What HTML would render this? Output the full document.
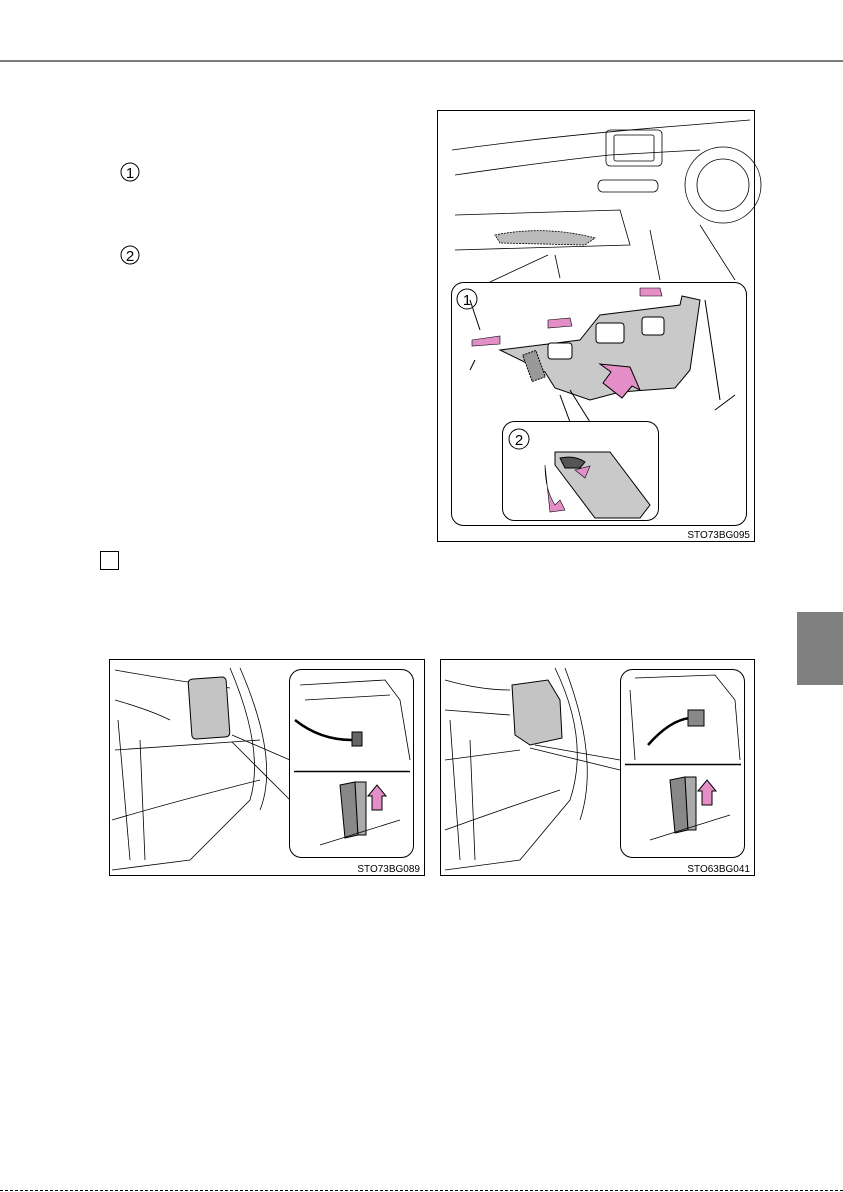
<!DOCTYPE html>
<html><head><meta charset="utf-8"><style>
html,body{margin:0;padding:0;background:#fff;}
body{width:843px;height:1192px;position:relative;overflow:hidden;font-family:"Liberation Sans",sans-serif;}
svg{position:absolute;left:0;top:0;}
</style></head><body>
<svg width="843" height="1192" viewBox="0 0 843 1192" fill="none" stroke="#000" stroke-width="1">
<rect x="0" y="60" width="843" height="2" fill="#7a7a7a" stroke="none"/>
<circle cx="130" cy="172" r="9" stroke-width="1"/>
<text x="130" y="178" font-size="15" text-anchor="middle" fill="#000" stroke="none">1</text>
<circle cx="130" cy="255" r="9"/>
<text x="130" y="261" font-size="15" text-anchor="middle" fill="#000" stroke="none">2</text>
<rect x="100.5" y="551.5" width="18" height="18"/>
<rect x="797" y="612" width="46" height="73" fill="#808080" stroke="none"/>
<line x1="0" y1="1190.5" x2="843" y2="1190.5" stroke="#000" stroke-dasharray="3,2"/>

<!-- top illustration -->
<rect x="437.5" y="110.5" width="317" height="431"/>
<g stroke-width="0.8">
<path d="M452 150 Q560 135 690 125 L750 120"/>
<path d="M455 175 Q560 160 610 155 L700 150"/>
<rect x="606" y="130" width="56" height="36" rx="4"/>
<rect x="614" y="135" width="40" height="26" rx="2"/>
<rect x="598" y="180" width="60" height="12" rx="5"/>
<circle cx="723" cy="185" r="38"/>
<circle cx="723" cy="185" r="26"/>
<path d="M455 215 L620 210 L630 245 L455 250"/>
<path d="M495 235 Q545 225 595 238 L585 245 L500 243 Z" fill="#bbb" stroke-dasharray="2,1"/>
<path d="M555 255 L560 278 M548 255 L490 282"/>
<path d="M650 230 L660 280 M700 225 L735 280"/>
</g>
<rect x="451.5" y="282.5" width="295" height="243" rx="12" fill="#fff"/>
<circle cx="467" cy="299" r="10"/>
<text x="467" y="305" font-size="15" text-anchor="middle" fill="#000" stroke="none">1</text>
<path d="M500 350 L580 340 L600 315 L680 305 L682 296 L700 300 L690 370 L675 388 L620 392 L590 400 L555 388 L545 372 Z" fill="#c9c9c9" stroke-width="1"/>
<rect x="548" y="343" width="24" height="16" rx="3" fill="#fff"/>
<rect x="596" y="323" width="28" height="20" rx="3" fill="#fff"/>
<rect x="642" y="317" width="22" height="18" rx="3" fill="#fff"/>
<rect x="527" y="352" width="14" height="28" fill="#999" stroke-dasharray="2,1" transform="rotate(-20 534 366)"/>
<path d="M472 340 L500 336 L500 344 L472 346 Z" fill="#e48ec8" stroke="#000" stroke-width="0.6"/>
<path d="M548 320 L570 318 L572 326 L548 328 Z" fill="#e48ec8" stroke="#000" stroke-width="0.6"/>
<path d="M640 288 L660 288 L662 296 L640 296 Z" fill="#e48ec8" stroke="#000" stroke-width="0.6"/>
<path d="M603 383 L611 372 L600 364 L630 367 L640 390 L632 386 L622 398 Z" fill="#e48ec8" stroke="#000"/>
<path d="M470 300 L480 330 M470 370 L475 360 M705 300 L720 400 M715 410 L735 395"/>
<path d="M560 395 L570 422 M570 390 L590 422"/>
<rect x="502.5" y="421.5" width="156" height="99" rx="12" fill="#fff"/>
<circle cx="519" cy="439" r="10"/>
<text x="519" y="445" font-size="15" text-anchor="middle" fill="#000" stroke="none">2</text>
<path d="M555 452 L610 452 L650 505 L640 518 L595 518 L555 465 Z" fill="#c9c9c9"/>
<path d="M560 458 Q575 455 585 462 L580 468 L565 468 Z" fill="#555"/>
<path d="M545 465 Q545 490 555 505 L560 500 L565 510 L550 512 Z" fill="#e48ec8" stroke="#000" stroke-width="0.6"/>
<path d="M575 470 L590 466 L585 478 Z" fill="#e48ec8" stroke="#000" stroke-width="0.6"/>
<text x="750" y="538" font-size="10" text-anchor="end" fill="#000" stroke="none">STO73BG095</text>

<!-- bottom left -->
<rect x="109.5" y="659.5" width="315" height="216"/>
<g stroke-width="0.8">
<path d="M115 670 Q170 680 230 688 M115 700 Q150 710 170 720 M115 750 L260 740 M112 820 Q180 800 260 780"/>
<path d="M230 668 Q265 750 250 800 L190 860 L112 870"/>
<path d="M240 668 Q280 760 260 810"/>
<path d="M118 720 L130 860 M140 740 L145 860"/>
</g>
<rect x="190" y="678" width="38" height="60" rx="4" fill="#c4c4c4" transform="rotate(-4 209 708)"/>
<path d="M232 735 L290 760 M232 742 L290 800" stroke-width="0.8"/>
<rect x="289.5" y="669.5" width="124" height="188" rx="12" fill="#fff"/>
<line x1="294" y1="771.5" x2="410" y2="771.5" stroke-width="1.5"/>
<path d="M300 685 L385 680 L400 700 L410 760 M305 700 L390 695" stroke-width="0.8"/>
<path d="M295 720 Q320 740 352 740" stroke-width="2.5"/>
<rect x="352" y="732" width="10" height="14" fill="#666"/>
<path d="M340 785 L355 782 L358 835 L345 838 Z" fill="#888"/>
<path d="M355 782 L366 782 L366 835 L358 835 Z" fill="#aaa"/>
<path d="M372 810 L372 796 L368 796 L377 785 L386 796 L382 796 L382 810 Z" fill="#e48ec8"/>
<path d="M320 845 L400 820" stroke-width="0.8"/>
<text x="420" y="872" font-size="10" text-anchor="end" fill="#000" stroke="none">STO73BG089</text>

<!-- bottom right -->
<rect x="440.5" y="659.5" width="314" height="216"/>
<g stroke-width="0.8">
<path d="M445 680 Q480 690 510 690 M445 710 L510 715 M445 760 L520 750 M445 830 Q500 810 560 790"/>
<path d="M555 668 Q590 740 570 800 L520 860 L445 870"/>
<path d="M565 668 Q600 760 580 820"/>
<path d="M450 720 L460 860 M470 740 L475 860"/>
</g>
<path d="M512 685 L548 680 L560 700 L562 738 L530 745 L515 735 Z" fill="#c4c4c4"/>
<path d="M535 745 L620 760 M530 748 L620 770" stroke-width="0.8"/>
<rect x="620.5" y="669.5" width="124" height="188" rx="12" fill="#fff"/>
<line x1="625" y1="764.5" x2="741" y2="764.5" stroke-width="1.5"/>
<path d="M635 678 L715 675 L735 700 L740 760 M630 690 L635 760" stroke-width="0.8"/>
<path d="M648 745 Q670 720 690 718" stroke-width="2.5"/>
<rect x="688" y="710" width="16" height="16" fill="#888"/>
<path d="M670 780 L685 777 L688 830 L675 833 Z" fill="#888"/>
<path d="M685 777 L696 777 L696 830 L688 830 Z" fill="#aaa"/>
<path d="M702 805 L702 791 L698 791 L707 780 L716 791 L712 791 L712 805 Z" fill="#e48ec8"/>
<path d="M650 840 L730 815" stroke-width="0.8"/>
<text x="750" y="872" font-size="10" text-anchor="end" fill="#000" stroke="none">STO63BG041</text>
</svg>
</body></html>
